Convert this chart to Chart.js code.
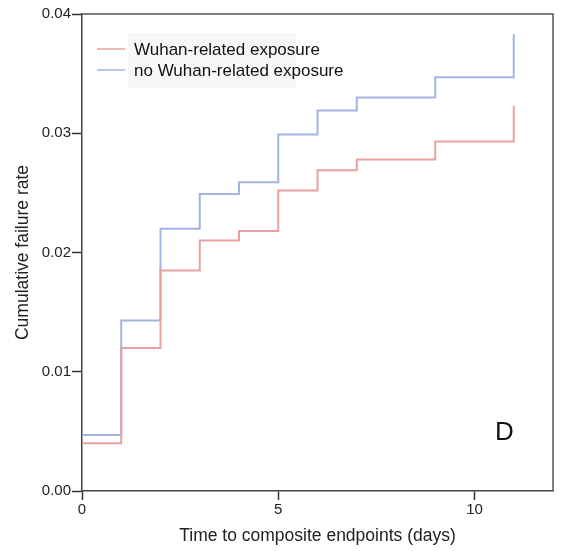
<!DOCTYPE html>
<html>
<head>
<meta charset="utf-8">
<script src="https://cdn.jsdelivr.net/npm/chart.js@4.4.0/dist/chart.umd.min.js"></script>
<style>
  html, body { margin: 0; padding: 0; background: #fff; }
  #wrap { width: 569px; height: 551px; }
</style>
</head>
<body>
<div id="wrap"><canvas id="kmChart" width="569" height="551"></canvas></div>
<script>
// step times (days) and cumulative failure rates
const days = [0, 1, 2, 3, 4, 5, 6, 7, 9, 11, 11]
const wuhan = [0.0040, 0.0120, 0.0185, 0.0210, 0.0218, 0.0252, 0.0269, 0.0278, 0.0293, 0.0293, 0.0323]
const noWuhan = [0.0047, 0.0143, 0.0220, 0.0249, 0.0259, 0.0299, 0.0319, 0.0330, 0.0347, 0.0347, 0.0383]
const xTicks = [0, 5, 10]
const yTicks = [0, 0.01, 0.02, 0.03, 0.04]
const seriesLabels = ['Wuhan-related exposure', 'no Wuhan-related exposure']
const seriesColors = ['#e9a0a0', '#a3b3e2']
const panelLabel = 'D'

const FONT = '"Liberation Sans", Arial, sans-serif'

const toPoints = (ys) => days.map((d, i) => ({x: d, y: ys[i]}))

// frame, legend and panel letter
const extras = {
  id: 'extras',
  afterDraw(chart) {
    const {ctx, chartArea: a} = chart
    ctx.save()
    ctx.strokeStyle = '#555'
    ctx.lineWidth = 1.5
    ctx.beginPath()
    ctx.moveTo(a.left, a.top)
    ctx.lineTo(a.right, a.top)
    ctx.lineTo(a.right, a.bottom)
    ctx.stroke()

    // legend
    ctx.fillStyle = '#f7f7f7'
    ctx.fillRect(128, 33, 168, 55)
    ctx.font = '17px ' + FONT
    ctx.textBaseline = 'middle'
    seriesLabels.forEach((lab, i) => {
      const y = 49 + i * 21
      ctx.strokeStyle = seriesColors[i]
      ctx.lineWidth = 1.5
      ctx.beginPath()
      ctx.moveTo(97, y)
      ctx.lineTo(125, y)
      ctx.stroke()
      ctx.fillStyle = '#111'
      ctx.fillText(lab, 134, y + 1)
    })

    ctx.font = '26px ' + FONT
    ctx.fillStyle = '#111'
    ctx.textBaseline = 'alphabetic'
    ctx.fillText(panelLabel, 495, 440)
    ctx.restore()
  }
}

const ctx = document.querySelector('#kmChart')
const kmChart = new Chart(ctx, {
  type: 'line',
  data: {
    datasets: [
      {label: seriesLabels[0], data: toPoints(wuhan), borderColor: seriesColors[0]},
      {label: seriesLabels[1], data: toPoints(noWuhan), borderColor: seriesColors[1]}
    ]
  },
  options: {
    responsive: false,
    animation: false,
    events: [],
    layout: {padding: {top: 14, right: 16, left: 0, bottom: 0}},
    elements: {
      line: {stepped: 'before', borderWidth: 2, fill: false, tension: 0},
      point: {radius: 0}
    },
    plugins: {legend: {display: false}, tooltip: {enabled: false}},
    scales: {
      x: {
        type: 'linear',
        min: 0,
        max: 12,
        afterBuildTicks: (s) => { s.ticks = xTicks.map(v => ({value: v})) },
        afterFit: (s) => { s.height = 60 },
        grid: {drawOnChartArea: false, tickLength: 9, tickColor: '#333', tickWidth: 1.5},
        border: {color: '#444', width: 1.5},
        ticks: {color: '#222', font: {family: FONT, size: 15}, padding: 1, maxRotation: 0},
        title: {display: true, text: 'Time to composite endpoints (days)', color: '#222',
          font: {family: FONT, size: 17.5}, padding: {top: 3}}
      },
      y: {
        min: 0,
        max: 0.04,
        afterBuildTicks: (s) => { s.ticks = yTicks.map(v => ({value: v})) },
        afterFit: (s) => { s.width = 82 },
        grid: {drawOnChartArea: false, tickLength: 10, tickColor: '#333', tickWidth: 1.5},
        border: {color: '#444', width: 1.5},
        ticks: {color: '#222', font: {family: FONT, size: 15}, padding: 1,
          callback: (v) => Number(v).toFixed(2)},
        title: {display: true, text: 'Cumulative failure rate', color: '#222',
          font: {family: FONT, size: 17.5}, padding: {top: 13}}
      }
    }
  },
  plugins: [extras]
})
</script>
</body>
</html>
